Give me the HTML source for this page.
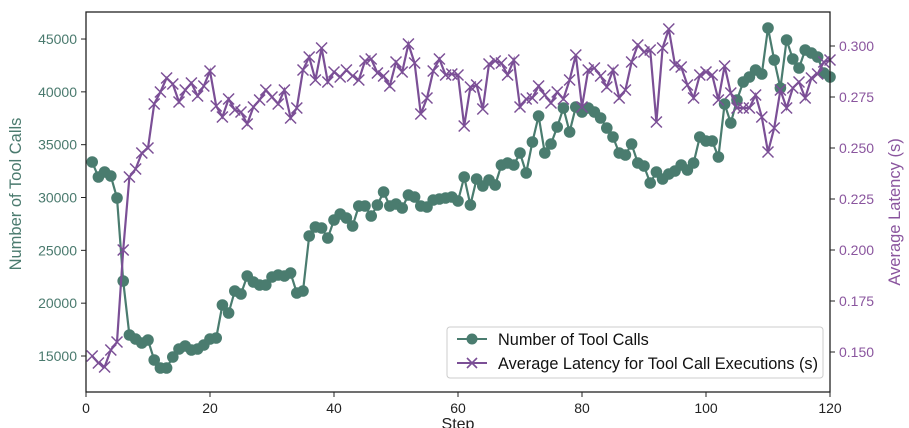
<!DOCTYPE html>
<html><head><meta charset="utf-8"><style>
html,body{margin:0;padding:0;background:#fff;}
svg{display:block;font-family:"Liberation Sans",Arial,sans-serif;}
</style></head><body>
<svg id="s" width="909" height="428" viewBox="0 0 909 428" xmlns="http://www.w3.org/2000/svg">
<rect x="0" y="0" width="909" height="428" fill="#fff"/>
<g id="plot"></g>
<rect x="86" y="12" width="744" height="380" fill="none" stroke="#222" stroke-width="1.3"/>
<g font-size="14" fill="#222" text-anchor="middle">
<line x1="86" y1="392" x2="86" y2="397" stroke="#222"/><text x="86" y="413">0</text>
<line x1="210" y1="392" x2="210" y2="397" stroke="#222"/><text x="210" y="413">20</text>
<line x1="334" y1="392" x2="334" y2="397" stroke="#222"/><text x="334" y="413">40</text>
<line x1="458" y1="392" x2="458" y2="397" stroke="#222"/><text x="458" y="413">60</text>
<line x1="582" y1="392" x2="582" y2="397" stroke="#222"/><text x="582" y="413">80</text>
<line x1="706" y1="392" x2="706" y2="397" stroke="#222"/><text x="706" y="413">100</text>
<line x1="830" y1="392" x2="830" y2="397" stroke="#222"/><text x="830" y="413">120</text>
<text x="458" y="429" font-size="16">Step</text>
</g>
<g id="ly" font-size="14" fill="#4a7a6e" text-anchor="end"></g>
<g id="ry" font-size="14" fill="#8a559e" text-anchor="start"></g>
<text transform="translate(21,194) rotate(-90)" font-size="16.5" fill="#4a7a6e" text-anchor="middle">Number of Tool Calls</text>
<text transform="translate(900,212) rotate(-90)" font-size="16.5" fill="#8a559e" text-anchor="middle">Average Latency (s)</text>
<g>
<rect x="447" y="327" width="376" height="51" rx="3" fill="#fff" fill-opacity="0.85" stroke="#ccc"/>
<line x1="457" y1="339" x2="487" y2="339" stroke="#4a7c6f" stroke-width="2"/>
<circle cx="472" cy="339" r="5.5" fill="#4a7c6f"/>
<text x="498" y="345" font-size="16.3" fill="#111">Number of Tool Calls</text>
<line x1="457" y1="363" x2="487" y2="363" stroke="#7b4f96" stroke-width="2"/>
<path d="M467,358 L477,368 M477,358 L467,368" stroke="#7b4f96" stroke-width="1.6"/>
<text x="498" y="369" font-size="16.3" fill="#111" textLength="320" lengthAdjust="spacingAndGlyphs">Average Latency for Tool Call Executions (s)</text>
</g>
</svg>
<script>
var ns="http://www.w3.org/2000/svg";
function el(t,a,p){var e=document.createElementNS(ns,t);for(var k in a)e.setAttribute(k,a[k]);p.appendChild(e);return e;}
var ly=document.getElementById('ly'),ry=document.getElementById('ry'),svg=document.getElementById('s');
for(var i=0;i<7;i++){var v=15000+5000*i,y=356-52.83*i;
el('line',{x1:81,y1:y,x2:86,y2:y,stroke:'#222'},svg);
el('text',{x:77,y:y+5},ly).textContent=v;}
for(var i=0;i<7;i++){var y=352-51*i;
el('line',{x1:830,y1:y,x2:835,y2:y,stroke:'#222'},svg);
el('text',{x:839,y:y+5},ry).textContent=(0.15+0.025*i).toFixed(3);}
var G=[162,177,172,176,198,281,335,339,343,340,360,368,368,357,349,346,350,349,345,339,338,305,313,291,294,276,282,285,285,277,275,276,273,293,291,236,227,228,238,220,214,218,226,206,206,216,205,192,206,204,208,195,197,206,207,200,199,198,197,201,177,205,179,186,180,185,165,163,165,153,173,142,116,153,144,127,108,132,107,112,108,112,118,128,137,153,155,144,163,166,183,172,179,174,171,165,170,163,137,141,141,157,104,123,100,82,77,70,74,28,60,88,40,59,68,50,53,57,73,77];
var P=[356,363,367,350,342,250,177,169,153,148,104,92,78,84,102,90,83,96,86,71,106,117,99,110,112,124,107,100,90,97,104,90,118,108,70,57,80,48,82,72,77,70,76,80,61,59,73,76,86,62,72,44,63,114,98,71,59,75,74,75,126,87,85,109,64,61,63,75,60,107,99,98,86,95,103,92,99,80,55,107,70,68,76,87,70,98,90,62,45,52,50,122,48,29,65,67,85,98,75,72,75,100,66,93,108,108,108,95,117,152,128,90,108,88,82,98,78,74,62,60];
var p=document.getElementById('plot');
function X(i){return 86+6.2*(i+1);}
var gp=G.map(function(y,i){return X(i)+','+y}).join(' ');
var pp=P.map(function(y,i){return X(i)+','+y}).join(' ');
el('polyline',{points:gp,fill:'none',stroke:'#4a7c6f','stroke-width':2.2},p);
G.forEach(function(y,i){el('circle',{cx:X(i),cy:y,r:5.8,fill:'#4a7c6f'},p);});
el('polyline',{points:pp,fill:'none',stroke:'#7b4f96','stroke-width':2.2},p);
P.forEach(function(y,i){var x=X(i);el('path',{d:'M'+(x-5.5)+','+(y-5.5)+'L'+(x+5.5)+','+(y+5.5)+'M'+(x+5.5)+','+(y-5.5)+'L'+(x-5.5)+','+(y+5.5),stroke:'#7b4f96','stroke-width':1.5},p);});
</script>
</body></html>
